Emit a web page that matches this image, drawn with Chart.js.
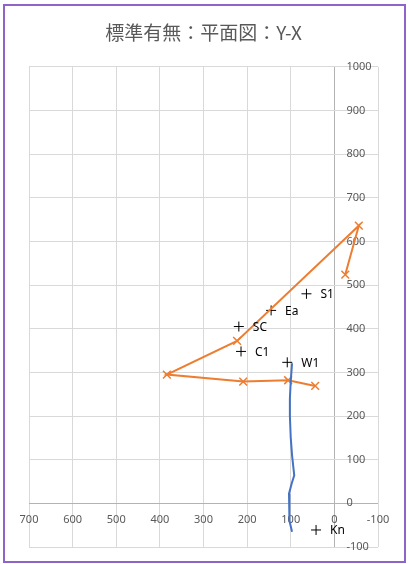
<!DOCTYPE html>
<html>
<head>
<meta charset="utf-8">
<script src="https://cdn.jsdelivr.net/npm/chart.js@4"></script>
<style>
  html, body { margin: 0; padding: 0; background: #fff; }
  #frame { position: absolute; left: 3px; top: 4px; width: 399px; height: 555px; border: 2px solid #9063c9; }
  #wrap { position: absolute; left: 0; top: 0; width: 408px; height: 564px; }
</style>
</head>
<body>
<div id="frame"></div>
<div id="wrap"><canvas id="chart"></canvas></div>
<script>
  // axis ranges (x reversed: 700 on the left, -100 on the right)
  const xMin = -100, xMax = 700, yMin = -100, yMax = 1000, step = 100;

  // orange line with x markers
  const orangeX = [44, 106, 209, 384, 223, -56, -25];
  const orangeY = [269, 282, 279, 295, 372, 636, 524];

  // blue line, no markers
  const blueX = [97, 100, 102, 102, 100, 97, 92, 98, 104, 104, 102, 97];
  const blueY = [321, 280, 240, 200, 150, 110, 64, 45, 22, -10, -40, -65];

  // named + points
  const markNames = ['S1', 'Ea', 'SC', 'C1', 'W1', 'Kn'];
  const markX = [64, 145, 219, 214, 108, 42];
  const markY = [480, 442, 405, 348, 323, -61];

  const pts = (xs, ys) => xs.map((v, i) => ({ x: v, y: ys[i] }));

  const axisText = {
    id: 'axisText',
    beforeDatasetsDraw(chart) {
      const { ctx, scales: { x, y } } = chart;
      const x0 = x.getPixelForValue(0), y0 = y.getPixelForValue(0);
      ctx.save();
      ctx.font = '11px "Noto Sans"';
      ctx.fillStyle = '#595959';
      ctx.textBaseline = 'middle';
      ctx.textAlign = 'center';
      x.ticks.forEach(t => ctx.fillText(t.value, x.getPixelForValue(t.value), y0 + 17));
      ctx.textAlign = 'left';
      y.ticks.forEach(t => ctx.fillText(t.value, x0 + 12, y.getPixelForValue(t.value)));
      ctx.restore();
    },
    afterDatasetsDraw(chart) {
      const { ctx } = chart;
      const meta = chart.getDatasetMeta(2);
      ctx.save();
      ctx.font = '12px "Noto Sans"';
      ctx.fillStyle = '#000';
      ctx.textBaseline = 'middle';
      ctx.textAlign = 'left';
      meta.data.forEach((p, i) => ctx.fillText(markNames[i], p.x + 14, p.y + 1));
      ctx.restore();
    }
  };

  const gridColor = c => (c.tick && c.tick.value === 0) ? '#b3b3b3' : '#d9d9d9';

  new Chart(document.getElementById('chart'), {
    type: 'scatter',
    data: {
      datasets: [
        { data: pts(blueX, blueY), showLine: true, borderColor: '#4472c4', borderWidth: 2,
          pointRadius: 0, tension: 0 },
        { data: pts(orangeX, orangeY), showLine: true, borderColor: '#ed7d31', borderWidth: 2,
          pointStyle: 'crossRot', pointRadius: 5.5, pointBorderWidth: 1.5,
          pointBorderColor: '#ed7d31', tension: 0 },
        { data: pts(markX, markY), showLine: false, pointStyle: 'cross', pointRadius: 5,
          pointBorderColor: '#000', pointBorderWidth: 1 }
      ]
    },
    options: {
      responsive: true,
      maintainAspectRatio: false,
      animation: false,
      layout: { padding: { left: 29, right: 30, top: 0, bottom: 17 } },
      plugins: {
        legend: { display: false },
        tooltip: { enabled: false },
        title: {
          display: true,
          text: '標準有無：平面図：Y-X',
          color: '#595959',
          font: { size: 19, family: '"Noto Sans CJK JP", "Noto Sans"', weight: 'normal' },
          padding: { top: 21, bottom: 23 }
        }
      },
      scales: {
        x: {
          type: 'linear', min: xMin, max: xMax, reverse: true,
          ticks: { stepSize: step, display: false },
          grid: { color: gridColor, drawTicks: false },
          border: { display: false }
        },
        y: {
          type: 'linear', min: yMin, max: yMax,
          ticks: { stepSize: step, display: false },
          grid: { color: gridColor, drawTicks: false },
          border: { display: false }
        }
      }
    },
    plugins: [axisText]
  });
</script>
</body>
</html>
